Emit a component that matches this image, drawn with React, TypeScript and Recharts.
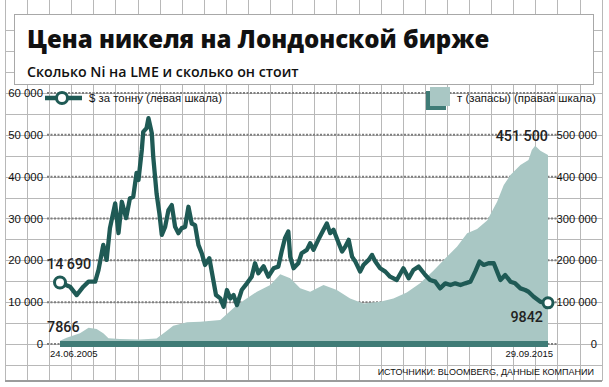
import * as React from "react";
import {
    ComposedChart,
    Area,
    Line,
    XAxis,
    YAxis,
    CartesianGrid,
    ReferenceLine,
    ReferenceDot,
    Legend
} from "recharts";

// nickel price, $ per tonne (left scale)
const priceDates = [
    2005.48, 2005.69, 2005.83, 2005.97, 2006.08, 2006.22, 2006.29, 2006.39, 2006.46, 2006.53,
    2006.64, 2006.71, 2006.78, 2006.87, 2006.95, 2007.02, 2007.09, 2007.13, 2007.2, 2007.23,
    2007.3, 2007.34, 2007.41, 2007.44, 2007.51, 2007.57, 2007.62, 2007.69, 2007.76, 2007.83,
    2007.9, 2007.97, 2008.04, 2008.11, 2008.18, 2008.25, 2008.32, 2008.39, 2008.46, 2008.53,
    2008.62, 2008.69, 2008.76, 2008.85, 2008.92, 2008.99, 2009.06, 2009.13, 2009.2, 2009.3,
    2009.41, 2009.51, 2009.58, 2009.65, 2009.76, 2009.86, 2009.97, 2010.07, 2010.14, 2010.21,
    2010.28, 2010.32, 2010.39, 2010.49, 2010.56, 2010.67, 2010.74, 2010.81, 2010.91, 2011.02,
    2011.09, 2011.16, 2011.23, 2011.34, 2011.41, 2011.48, 2011.55, 2011.62, 2011.69, 2011.79,
    2011.86, 2011.97, 2012.04, 2012.11, 2012.21, 2012.32, 2012.42, 2012.56, 2012.7, 2012.81,
    2012.91, 2013.02, 2013.16, 2013.26, 2013.37, 2013.47, 2013.58, 2013.69, 2013.79, 2013.9,
    2014.0, 2014.11, 2014.21, 2014.3, 2014.39, 2014.49, 2014.6, 2014.67, 2014.74, 2014.84,
    2014.95, 2015.05, 2015.16, 2015.26, 2015.33, 2015.44, 2015.58, 2015.74
];
const priceValues = [
    14690, 13700, 11700, 13700, 14900, 14900, 17700, 23700, 20100, 27700,
    33600, 26500, 34000, 30100, 34800, 35200, 40900, 39200, 46400, 50700,
    51600, 54000, 50400, 44800, 36000, 31200, 26100, 28000, 32000, 33200,
    28000, 26500, 27700, 28000, 32800, 28800, 28400, 23700, 21700, 18900,
    20500, 16100, 11700, 10900, 8900, 12900, 10900, 11700, 9300, 12900,
    14500, 16100, 19300, 16900, 18600, 16100, 18100, 18500, 22100, 25300,
    26900, 20900, 18100, 19300, 21700, 22500, 24100, 22500, 24900, 27300,
    28800, 26500, 27300, 24100, 22100, 23300, 24900, 20900, 19700, 17300,
    18900, 20100, 21300, 19700, 18100, 17300, 16100, 15300, 18100, 15700,
    17700, 18500, 16500, 15300, 14900, 13300, 14500, 14100, 14500, 14100,
    14500, 14900, 17300, 19700, 18900, 19300, 19300, 17300, 15300, 16500,
    14900, 14500, 13300, 12900, 12500, 11300, 10100, 9842
];

// LME stocks, tonnes (right scale)
const stockDates = [
    2005.48, 2005.62, 2005.9, 2006.08, 2006.25, 2006.39, 2006.5, 2006.74, 2007.16, 2007.51,
    2007.72, 2007.86, 2008.15, 2008.43, 2008.85, 2009.2, 2009.62, 2009.9, 2010.11, 2010.32,
    2010.53, 2010.74, 2011.02, 2011.3, 2011.58, 2011.86, 2012.21, 2012.49, 2012.77, 2013.05,
    2013.33, 2013.62, 2013.83, 2014.04, 2014.25, 2014.46, 2014.67, 2014.81, 2014.95, 2015.16,
    2015.33, 2015.4, 2015.47, 2015.58, 2015.74
];
const stockValues = [
    7866, 15000, 25600, 39000, 35900, 25600, 13600, 12000, 11000, 13000,
    31100, 43800, 51900, 53300, 57400, 93200, 125000, 141000, 167000, 157000,
    133000, 125000, 141000, 129000, 109000, 97000, 101000, 109000, 123000, 145000,
    175000, 209000, 233000, 265000, 275000, 295000, 340000, 380000, 404000, 428000,
    440000, 464000, 474000, 462000, 451500
];

const leftTicks = [0, 10000, 20000, 30000, 40000, 50000, 60000];
const rightTicks = [0, 100000, 200000, 300000, 400000, 500000];
const dateLabels = ["24.06.2005", "29.09.2015"];

const title = "Цена никеля на Лондонской бирже";
const subtitle = "Сколько Ni на LME и сколько он стоит";
const priceName = "$ за тонну (левая шкала)";
const stockName = "т (запасы) (правая шкала)";
const source = "ИСТОЧНИКИ: BLOOMBERG, ДАННЫЕ КОМПАНИИ";

const priceData = priceDates.map((t, i) => ({ t, price: priceValues[i] }));
const stockData = stockDates.map((t, i) => ({ t, stock: stockValues[i] }));

const lastPrice = priceData.length - 1;
const lastStock = stockData.length - 1;

const W = 609;
const H = 387;
const TEAL = "#1f5a55";
const AREA = "#a9c7c4";
const BAND = "#3f7b76";
const PAPER = "#b8b8b8";
const SANS = '"Liberation Sans", Arial, sans-serif';
const NUM = 'Roboto, "Noto Sans", sans-serif';

const fmt = (v: number) => String(v).replace(/\B(?=(\d{3})+(?!\d))/g, " ");

// graph paper background + title card
const Paper = () => {
    const xs = Array.from({ length: 28 }, (_, k) => Math.round(4.9 + 22.1 * k) + 0.5);
    const ys = Array.from({ length: 17 }, (_, k) => Math.round(30.3 + 20.9 * k) + 0.5);
    return (
        <svg width={W} height={H} style={{ position: "absolute", left: 0, top: 0 }}>
            {xs.map((x) => <line key={"v" + x} x1={x} x2={x} y1={0} y2={381} stroke={PAPER} />)}
            {ys.map((y) => <line key={"h" + y} x1={5} x2={602} y1={y} y2={y} stroke={PAPER} />)}
            <line x1={5} x2={602} y1={381} y2={381} stroke="#9c9c9c" strokeWidth={2} />
            <rect x={14.5} y={14.5} width={579} height={70} fill="#fff" stroke="#a8a8a8" />
            <text x={27} y={48} fontFamily='"Open Sans", sans-serif' fontWeight={800}
                fontSize={24} fill="#111">{title}</text>
            <text x={27} y={77} fontFamily='"Open Sans", sans-serif' fontWeight={600}
                fontSize={14.2} fill="#111">{subtitle}</text>
            <text x={594} y={375} textAnchor="end" fontFamily={SANS}
                fontSize={9} fill="#111">{source}</text>
        </svg>
    );
};

const LegendContent = () => (
    <svg width={W} height={26}>
        <line x1={45} x2={82} y1={12} y2={12} stroke={TEAL} strokeWidth={4.5} />
        <circle cx={62} cy={12} r={5.5} fill="#fff" stroke={TEAL} strokeWidth={3} />
        <text x={89} y={16} fontFamily={SANS} fontSize={11.4} fill="#111">{priceName}</text>
        <rect x={426} y={5} width={20} height={19} fill={BAND} />
        <rect x={430} y={1} width={20} height={19} fill={AREA} />
        <text x={457} y={16} fontFamily={SANS} fontSize={11.4} fill="#111">{stockName}</text>
    </svg>
);

const PriceDot = (props: any) => {
    const { cx, cy, index } = props;
    if (index !== 0 && index !== lastPrice) return <g key={index} />;
    const r = index === 0 ? 5.5 : 5;
    return <circle key={index} cx={cx} cy={cy} r={r} fill="#fff" stroke={TEAL} strokeWidth={3} />;
};

const note = (text: string, dx: number, dy: number, anchor: string) => (props: any) => {
    const vb = props.viewBox || {};
    return (
        <text x={vb.x + dx} y={vb.y + dy} textAnchor={anchor} fontFamily={NUM}
            fontWeight={500} fontSize={14.3} fill="#222">{text}</text>
    );
};

const DateTick = (props: any) => {
    const { x, y, index } = props;
    const first = index === 0;
    return (
        <text x={first ? x - 10 : x + 5} y={y + 13} textAnchor={first ? "start" : "end"}
            fontFamily={SANS} fontSize={9.5} fill="#111">{dateLabels[first ? 0 : 1]}</text>
    );
};

const RightTick = (props: any) => {
    const { x, y, payload } = props;
    return (
        <text x={x + 40} y={y} dy="0.36em" textAnchor="end" fontFamily={SANS}
            fontSize={11.2} fill="#111">{fmt(payload.value)}</text>
    );
};

export default function App() {
    return (
        <div style={{ position: "absolute", left: 0, top: 0, width: W, height: H, background: "#fff", overflow: "hidden" }}>
            <Paper />
            <div style={{ position: "absolute", left: 0, top: 0 }}>
                <ComposedChart width={W} height={H} margin={{ top: 93, right: 0, bottom: 0, left: 0 }}>
                    <CartesianGrid yAxisId="left" vertical={false} stroke="#7f7f7f"
                        strokeWidth={2} strokeDasharray="2 1.5" />
                    <XAxis dataKey="t" type="number" height={43}
                        domain={[priceDates[0], priceDates[lastPrice]]}
                        ticks={[priceDates[0], priceDates[lastPrice]]}
                        padding={{ left: 13, right: 9 }}
                        axisLine={false} tickLine={false} tickSize={0} tickMargin={0}
                        tick={<DateTick />} interval={0} />
                    <YAxis yAxisId="left" orientation="left" width={47} domain={[0, 60000]}
                        ticks={leftTicks} interval={0} tickFormatter={fmt}
                        axisLine={false} tickLine={false} tickSize={0} tickMargin={4}
                        tick={{ fontSize: 11.4, fill: "#111", fontFamily: SANS }} />
                    <YAxis yAxisId="right" orientation="right" width={52} domain={[0, 600000]}
                        ticks={rightTicks} interval={0}
                        axisLine={false} tickLine={false} tickSize={0} tickMargin={0}
                        tick={<RightTick />} />
                    <Area yAxisId="right" data={stockData} dataKey="stock" type="linear"
                        fill={AREA} fillOpacity={1} stroke="none" isAnimationActive={false} />
                    <ReferenceLine yAxisId="right"
                        segment={[{ x: stockDates[0], y: 0 }, { x: stockDates[lastStock], y: 0 }]}
                        stroke={BAND} strokeWidth={6} />
                    <Line yAxisId="left" data={priceData} dataKey="price" type="linear"
                        stroke={TEAL} strokeWidth={4.3} strokeLinejoin="round"
                        dot={<PriceDot />} activeDot={false} isAnimationActive={false} />
                    <ReferenceDot yAxisId="left" x={priceDates[0]} y={priceValues[0]} r={0}
                        fill="none" stroke="none" label={note(fmt(priceValues[0]), -13, -14, "start")} />
                    <ReferenceDot yAxisId="left" x={priceDates[lastPrice]} y={priceValues[lastPrice]} r={0}
                        fill="none" stroke="none" label={note(String(priceValues[lastPrice]), -5, 19, "end")} />
                    <ReferenceDot yAxisId="right" x={stockDates[0]} y={stockValues[0]} r={0}
                        fill="none" stroke="none" label={note(String(stockValues[0]), -13, -9, "start")} />
                    <ReferenceDot yAxisId="right" x={stockDates[lastStock]} y={stockValues[lastStock]} r={0}
                        fill="none" stroke="none" label={note(fmt(stockValues[lastStock]), 0, -14, "end")} />
                    <Legend layout="vertical" align="center" verticalAlign="middle"
                        wrapperStyle={{ top: 86, left: 0, width: W, height: 26 }}
                        content={() => <LegendContent />} />
                </ComposedChart>
            </div>
        </div>
    );
}
